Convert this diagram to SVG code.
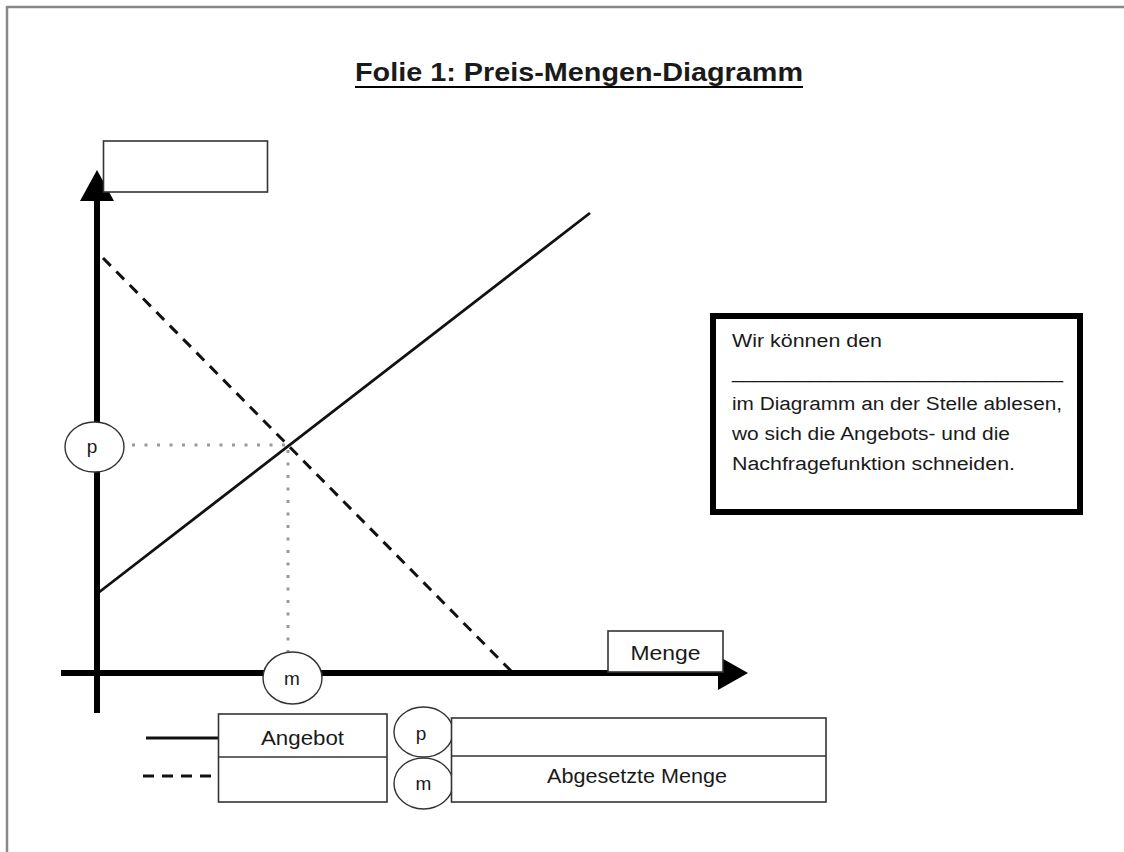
<svg xmlns="http://www.w3.org/2000/svg" width="1124" height="852" viewBox="0 0 1124 852">
  <defs>
    <style>
      .t { font-family: "Liberation Sans", "Open Sans", Arial, sans-serif; fill: #1a1a1a; }
      .box { fill: #ffffff; stroke: #333333; stroke-width: 1.6; }
      .circ { fill: #ffffff; stroke: #333333; stroke-width: 1.4; }
      .axis { stroke: #000000; stroke-width: 6; fill: none; }
      .supply { stroke: #111111; stroke-width: 2.8; fill: none; }
      .demand { stroke: #111111; stroke-width: 3; fill: none; stroke-dasharray: 11 8; }
      .dot { stroke: #9a9a9a; stroke-width: 3; fill: none; stroke-dasharray: 3 9.5; }
    </style>
  </defs>
  <rect x="0" y="0" width="1124" height="852" fill="#ffffff"/>
  <g id="frame">
    <line x1="7" y1="7" x2="1124" y2="7" stroke="#888888" stroke-width="2.5"/>
    <line x1="7" y1="6" x2="7" y2="852" stroke="#888888" stroke-width="2.5"/>
  </g>
  <g id="title">
    <text class="t" x="355" y="81" font-size="25" font-weight="bold" textLength="448" lengthAdjust="spacingAndGlyphs">Folie 1: Preis-Mengen-Diagramm</text>
    <line x1="355" y1="87" x2="803" y2="87" stroke="#000000" stroke-width="2"/>
  </g>
  <g id="connectors">
    <line class="dot" x1="132" y1="445" x2="288" y2="445"/>
    <line class="dot" x1="288" y1="450" x2="288" y2="652"/>
    <line class="supply" x1="98" y1="593" x2="590" y2="213"/>
    <line class="demand" x1="103" y1="258" x2="512" y2="672"/>
    <line class="axis" x1="97" y1="713" x2="97" y2="198"/>
    <polygon points="97,170 80,201 114,201" fill="#000000"/>
    <line class="axis" x1="61" y1="673" x2="720" y2="673"/>
    <polygon points="748,673 718,656 718,690" fill="#000000"/>
    <line class="supply" x1="146" y1="738" x2="218" y2="738"/>
    <line class="demand" x1="143" y1="776" x2="212" y2="776" stroke-width="3.5"/>
  </g>
  <g id="price-axis-label">
    <rect class="box" x="103.5" y="141" width="164" height="51"/>
  </g>
  <g id="menge-label">
    <rect class="box" x="608" y="631" width="115" height="41"/>
    <text class="t" x="665.5" y="660" font-size="20" text-anchor="middle" textLength="70" lengthAdjust="spacingAndGlyphs">Menge</text>
  </g>
  <g id="p-marker">
    <ellipse class="circ" cx="94.5" cy="447" rx="29.5" ry="25"/>
    <text class="t" x="92" y="453" font-size="19" text-anchor="middle">p</text>
  </g>
  <g id="m-marker">
    <ellipse class="circ" cx="292.5" cy="678" rx="29.5" ry="26"/>
    <text class="t" x="292" y="685" font-size="19" text-anchor="middle">m</text>
  </g>
  <g id="info-box">
    <rect x="713" y="316" width="367" height="196" fill="#ffffff" stroke="#000000" stroke-width="6"/>
    <text class="t" x="732" y="347" font-size="18" textLength="150" lengthAdjust="spacingAndGlyphs">Wir können den</text>
    <text class="t" x="732" y="378" font-size="18" textLength="331" lengthAdjust="spacingAndGlyphs">______________________________</text>
    <text class="t" x="732" y="410" font-size="18" textLength="330" lengthAdjust="spacingAndGlyphs">im Diagramm an der Stelle ablesen,</text>
    <text class="t" x="732" y="440" font-size="18" textLength="278" lengthAdjust="spacingAndGlyphs">wo sich die Angebots- und die</text>
    <text class="t" x="732" y="470" font-size="18" textLength="283" lengthAdjust="spacingAndGlyphs">Nachfragefunktion schneiden.</text>
  </g>
  <g id="legend-curves">
    <rect class="box" x="218.5" y="714" width="168.5" height="88"/>
    <line x1="218.5" y1="757" x2="387" y2="757" stroke="#333333" stroke-width="1.6"/>
    <text class="t" x="302.5" y="745" font-size="20" text-anchor="middle" textLength="83" lengthAdjust="spacingAndGlyphs">Angebot</text>
  </g>
  <g id="legend-p">
    <ellipse class="circ" cx="423.5" cy="732" rx="29.5" ry="25"/>
    <text class="t" x="421" y="740" font-size="19" text-anchor="middle">p</text>
  </g>
  <g id="legend-m">
    <ellipse class="circ" cx="423.5" cy="783.5" rx="29.5" ry="25.5"/>
    <text class="t" x="423.5" y="790" font-size="19" text-anchor="middle">m</text>
  </g>
  <g id="legend-symbols">
    <rect class="box" x="451.5" y="718" width="374.5" height="84" fill="none"/>
    <line x1="451.5" y1="756" x2="826" y2="756" stroke="#333333" stroke-width="1.6"/>
    <text class="t" x="637" y="783" font-size="20" text-anchor="middle" textLength="180" lengthAdjust="spacingAndGlyphs">Abgesetzte Menge</text>
  </g>
</svg>
